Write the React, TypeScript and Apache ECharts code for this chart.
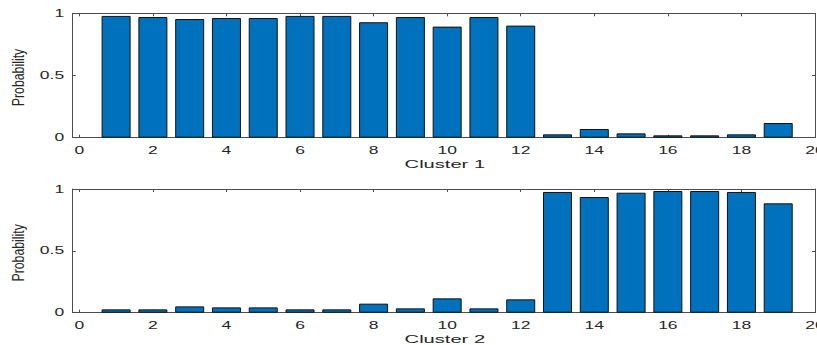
import React, { useEffect, useRef } from "react";
import * as echarts from "echarts";

const positions = [1, 2, 3, 4, 5, 6, 7, 8, 9, 10, 11, 12, 13, 14, 15, 16, 17, 18, 19];
const cluster1 = [0.979, 0.970, 0.954, 0.962, 0.962, 0.979, 0.979, 0.928, 0.970, 0.893, 0.970, 0.901, 0.027, 0.070, 0.035, 0.019, 0.019, 0.027, 0.118];
const cluster2 = [0.027, 0.027, 0.051, 0.043, 0.043, 0.027, 0.027, 0.073, 0.035, 0.116, 0.035, 0.108, 0.976, 0.935, 0.970, 0.984, 0.984, 0.976, 0.884];
const xTicks = [0, 2, 4, 6, 8, 10, 12, 14, 16, 18, 20];
const yTicks = [0, 0.5, 1];
const yTickLabels = ["0", "0.5", "1"];
const xLabels = ["Cluster 1", "Cluster 2"];
const yLabel = "Probability";

const TXT = "#262626";
const AX = "#4d4d4d";
const FONT = "Liberation Sans, Arial, Helvetica, sans-serif";
const SX = 1.75;

export default function App() {
  const ref = useRef<HTMLDivElement>(null);
  useEffect(() => {
    if (!ref.current) return;
    const chart = echarts.init(ref.current, null, { renderer: "svg" });
    const grids = [
      { left: 72.7, top: 13.3, width: 742.3, height: 124.4 },
      { left: 72.7, top: 189, width: 742.3, height: 123.7 },
    ];
    const xAxes: any[] = [];
    const yAxes: any[] = [];
    grids.forEach((g, i) => {
      const base = {
        type: "value",
        gridIndex: i,
        min: -0.18,
        max: 20,
        splitLine: { show: false },
        axisLine: { show: true, onZero: false, lineStyle: { color: AX, width: 1 } },
        axisTick: { show: true, inside: true, length: 3, customValues: xTicks, lineStyle: { color: AX } },
        axisLabel: { show: false },
      };
      xAxes.push({ ...base, position: "bottom" });
      xAxes.push({ ...base, position: "top" });
      const ybase = {
        type: "value",
        gridIndex: i,
        min: 0,
        max: 1,
        interval: 0.5,
        splitLine: { show: false },
        axisLine: { show: true, onZero: false, lineStyle: { color: AX, width: 1 } },
        axisTick: { show: true, inside: true, length: 3, lineStyle: { color: AX } },
        axisLabel: { show: false },
      };
      yAxes.push({ ...ybase, position: "left" });
      yAxes.push({ ...ybase, position: "right" });
    });
    const mk = (vals: number[], i: number) => ({
      type: "bar",
      xAxisIndex: i * 2,
      yAxisIndex: i * 2,
      barWidth: 29,
      data: positions.map((p, k) => [p, vals[k]]),
      itemStyle: { color: "#0072BD", borderColor: "#111", borderWidth: 1 },
    });
    chart.setOption({
      animation: false,
      backgroundColor: "#ffffff",
      grid: grids,
      xAxis: xAxes,
      yAxis: yAxes,
      series: [mk(cluster1, 0), mk(cluster2, 1)],
    });

    const txt = (text: string, x: number, y: number, size: number, align: string, valign: string, extra: any = {}) => ({
      type: "text",
      x,
      y,
      scaleX: SX,
      silent: true,
      ...extra,
      style: {
        text,
        fill: TXT,
        fontSize: size,
        fontFamily: FONT,
        align,
        verticalAlign: valign,
        textAlign: align,
        textVerticalAlign: valign,
      },
    });
    const graphics: any[] = [];
    grids.forEach((g, i) => {
      const finder = { xAxisIndex: i * 2, yAxisIndex: i * 2 };
      xTicks.forEach((t) => {
        const p = chart.convertToPixel(finder, [t, 0]) as number[];
        graphics.push(txt(String(t), p[0], p[1] + 13, 10, "center", "middle"));
      });
      yTicks.forEach((t, k) => {
        const p = chart.convertToPixel(finder, [-0.18, t]) as number[];
        graphics.push(txt(yTickLabels[k], p[0] - 8.5, p[1], 10, "right", "middle"));
      });
      const c = chart.convertToPixel(finder, [(-0.18 + 20) / 2, 0.5]) as number[];
      const b = chart.convertToPixel(finder, [0, 0]) as number[];
      graphics.push(txt(xLabels[i], c[0] + 1, b[1] + 26, 11.5, "center", "middle"));
      graphics.push(
        txt(yLabel, 18, c[1] + 2, 11, "center", "middle", { rotation: Math.PI / 2, scaleX: 1.12, scaleY: 1.5 })
      );
    });
    chart.setOption({ graphic: graphics });
    return () => chart.dispose();
  }, []);
  return <div ref={ref} style={{ position: "absolute", left: 0, top: 0, width: 817, height: 345 }} />;
}
